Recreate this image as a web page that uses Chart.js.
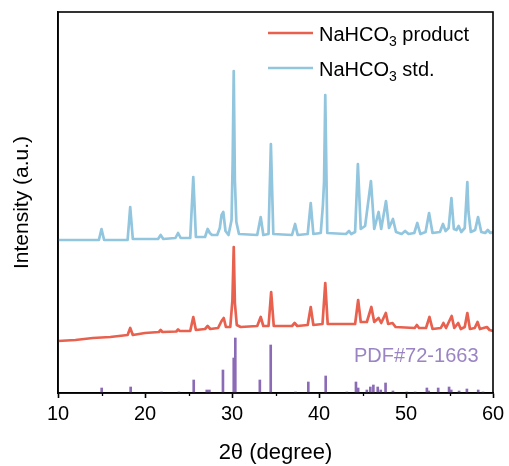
<!DOCTYPE html>
<html>
<head>
<meta charset="utf-8">
<script src="https://cdn.jsdelivr.net/npm/chart.js@4.4.1/dist/chart.umd.min.js"></script>
<style>
    html, body { margin: 0; padding: 0; background: #fff; }
    #wrap { width: 509px; height: 466px; }
</style>
</head>
<body>
<div id="wrap"><canvas id="xrd-chart" width="509" height="466"></canvas></div>
<script>
// 2theta / intensity (intensity in arbitrary units)
var stdX = [10.0, 14.7, 15.0, 15.3, 18.0, 18.3, 18.6, 21.5, 21.8, 22.1, 23.5, 23.8, 24.1, 25.2, 25.55, 25.85,
    26.9, 27.2, 27.45, 27.7, 28.3, 28.6, 28.8, 29.0, 29.25, 29.6, 29.95, 30.08, 30.2, 30.33, 30.5, 30.8,
    32.9, 33.3, 33.6, 34.2, 34.47, 34.75, 36.9, 37.25, 37.55, 38.7, 39.05, 39.35, 40.2, 40.45, 40.58, 40.72, 40.95,
    43.1, 43.45, 43.7, 44.15, 44.47, 44.8, 45.3, 45.97, 46.35, 46.85, 47.15, 47.7, 48.05, 48.5, 48.85,
    49.5, 49.9, 50.3, 50.95, 51.3, 51.65, 52.25, 52.65, 53.05, 53.9, 54.25, 54.55, 54.9, 55.22, 55.5, 55.8,
    56.05, 56.35, 56.75, 57.05, 57.18, 57.45, 57.95, 58.28, 58.65, 59.1, 59.4, 59.7, 60.0];
var stdY = [153, 153, 164, 153, 153, 186, 154, 154, 158, 154, 155, 160, 155, 155, 216, 156,
    156, 164, 160, 158, 158, 165, 178, 181, 162, 158, 173, 233, 322, 213, 171, 159,
    158, 176, 158, 159, 249, 159, 158, 169, 158, 159, 190, 159, 160, 188, 211, 298, 160,
    159, 162, 159, 161, 229, 164, 167, 212, 164, 181, 164, 192, 165, 174, 161,
    159, 162, 159, 160, 170, 159, 161, 180, 160, 161, 169, 162, 165, 195, 164, 163,
    167, 161, 165, 211, 181, 161, 163, 176, 161, 160, 163, 160, 161];

var productX = [10.0, 12.0, 14.0, 16.0, 18.0, 18.3, 18.6, 20.0, 21.6, 21.8, 22.0, 23.6, 23.8, 24.0, 25.2, 25.55, 25.85,
    26.9, 27.2, 27.5, 28.4, 28.8, 29.05, 29.3, 29.8, 30.05, 30.2, 30.33, 30.55, 31.0, 32.9, 33.3, 33.6,
    34.2, 34.5, 34.8, 36.9, 37.2, 37.5, 38.7, 39.05, 39.35, 40.4, 40.72, 41.0, 44.15, 44.5, 44.8, 45.5,
    46.02, 46.35, 46.85, 47.15, 47.68, 47.95, 48.45, 48.8, 51.0, 51.25, 51.5, 52.3, 52.7, 53.05, 54.0,
    54.3, 54.6, 55.25, 55.55, 56.0, 56.3, 56.75, 57.05, 57.35, 57.9, 58.22, 58.5, 59.3, 59.6, 60.0];
var productY = [52, 53, 55, 56, 58, 65, 58, 60, 61, 63, 61, 61.5, 63.5, 62, 62, 76, 63,
    64, 67, 64, 65, 72, 75, 66, 66, 93, 146, 90, 68, 66, 67, 76, 67,
    67, 101, 67, 67, 70, 67, 68, 86, 68, 69, 110, 69, 69, 93, 71, 71,
    86, 71, 75, 70, 80, 69, 70, 66, 65, 68, 65, 65, 76, 64, 65,
    70, 65, 77, 65, 70, 64, 66, 80, 64, 65, 71, 64, 66, 63, 62];

// reference card PDF#72-1663
var cardX = [15.02, 18.35, 21.9, 23.9, 25.6, 27.1, 27.4, 28.96, 30.2, 30.38, 33.2, 34.45, 37.3, 38.77, 40.77,
    43.2, 44.25, 44.5, 45.5, 45.9, 46.25, 46.75, 47.1, 47.65, 48.5, 50.1, 51.05, 52.4, 52.6, 53.7,
    54.95, 55.2, 56.1, 57.0, 58.3, 58.85];
var cardY = [5, 6, 1, 1, 13, 3, 3, 23, 35, 55, 13, 48, 1, 11, 17,
    1, 11, 5, 3, 6, 8, 6, 3, 10, 2, 1, 1, 5, 2, 5,
    6, 3, 2, 4, 3, 1];

var xTicks = [10, 20, 30, 40, 50, 60];

var RED = '#e8604e';
var BLUE = '#92c5de';
var PURPLE = '#8c6bb6';
var FONT = "'Liberation Sans', Arial, sans-serif";

function toPoints(xs, ys) {
    var out = [];
    for (var i = 0; i < xs.length; i++) {
        out.push({x: xs[i], y: ys[i]});
    }
    return out;
}

// frame, minor ticks, legend with subscripts, card label
var extras = {
    id: 'extras',
    afterDraw: function (chart) {
        var ctx = chart.ctx;
        var a = chart.chartArea;
        var xs = chart.scales.x;
        ctx.save();
        ctx.strokeStyle = '#000';
        ctx.lineWidth = 1.6;
        ctx.strokeRect(a.left, a.top, a.right - a.left, a.bottom - a.top);

        ctx.lineWidth = 1.3;
        [15, 25, 35, 45, 55].forEach(function (v) {
            var px = Math.round(xs.getPixelForValue(v)) + 0.5;
            ctx.beginPath();
            ctx.moveTo(px, a.bottom);
            ctx.lineTo(px, a.bottom + 3);
            ctx.stroke();
        });

        var items = [[RED, ' product', 33], [BLUE, ' std.', 68]];
        items.forEach(function (it) {
            ctx.strokeStyle = it[0];
            ctx.lineWidth = 2.5;
            ctx.beginPath();
            ctx.moveTo(268, it[2]);
            ctx.lineTo(313, it[2]);
            ctx.stroke();
            ctx.fillStyle = '#000';
            ctx.textBaseline = 'alphabetic';
            ctx.textAlign = 'left';
            ctx.font = '20px ' + FONT;
            var x = 319;
            var y = it[2] + 7.5;
            ctx.fillText('NaHCO', x, y);
            x += ctx.measureText('NaHCO').width;
            ctx.font = '14px ' + FONT;
            ctx.fillText('3', x, y + 5);
            x += ctx.measureText('3').width;
            ctx.font = '20px ' + FONT;
            ctx.fillText(it[1], x, y);
        });

        ctx.fillStyle = '#9a84c4';
        ctx.font = '20px ' + FONT;
        ctx.textAlign = 'left';
        ctx.fillText('PDF#72-1663', 354, 362);
        ctx.restore();
    }
};

var ctx = document.getElementById('xrd-chart');
var config = {
    type: 'line',
    data: {
        datasets: [{
            label: 'NaHCO3 std.',
            data: toPoints(stdX, stdY),
            borderColor: BLUE,
            borderWidth: 2.7,
            borderJoinStyle: 'round',
            pointRadius: 0,
            tension: 0
        },
        {
            label: 'NaHCO3 product',
            data: toPoints(productX, productY),
            borderColor: RED,
            borderWidth: 2.7,
            borderJoinStyle: 'round',
            pointRadius: 0,
            tension: 0
        },
        {
            type: 'bar',
            label: 'PDF#72-1663',
            data: toPoints(cardX, cardY),
            backgroundColor: PURPLE,
            barThickness: 2,
            borderWidth: 0
        }]
    },
    options: {
        responsive: false,
        animation: false,
        events: [],
        layout: {
            padding: {left: 0, right: 16, top: 12, bottom: 0}
        },
        plugins: {
            legend: {display: false},
            tooltip: {enabled: false}
        },
        scales: {
            x: {
                type: 'linear',
                min: 10,
                max: 60,
                offset: false,
                afterBuildTicks: function (scale) {
                    scale.ticks = xTicks.map(function (v) { return {value: v}; });
                },
                afterFit: function (scale) {
                    scale.height = 73;
                },
                ticks: {
                    color: '#000',
                    padding: 4,
                    maxRotation: 0,
                    font: {family: FONT, size: 20}
                },
                grid: {
                    offset: false,
                    drawOnChartArea: false,
                    drawTicks: true,
                    tickLength: 5,
                    tickColor: '#000',
                    tickWidth: 1.6
                },
                border: {display: true, color: '#000', width: 1.6},
                title: {
                    display: true,
                    text: '2θ (degree)',
                    color: '#000',
                    padding: {top: 5, bottom: 0},
                    font: {family: FONT, size: 22}
                }
            },
            y: {
                min: 0,
                max: 381,
                afterFit: function (scale) {
                    scale.width = 58;
                },
                ticks: {display: false},
                grid: {display: false},
                border: {display: true, color: '#000', width: 1.6},
                title: {
                    display: true,
                    text: 'Intensity (a.u.)',
                    color: '#000',
                    padding: {top: 10, bottom: 0},
                    font: {family: FONT, size: 21}
                }
            }
        }
    },
    plugins: [extras]
};
new Chart(ctx, config);
</script>
</body>
</html>
